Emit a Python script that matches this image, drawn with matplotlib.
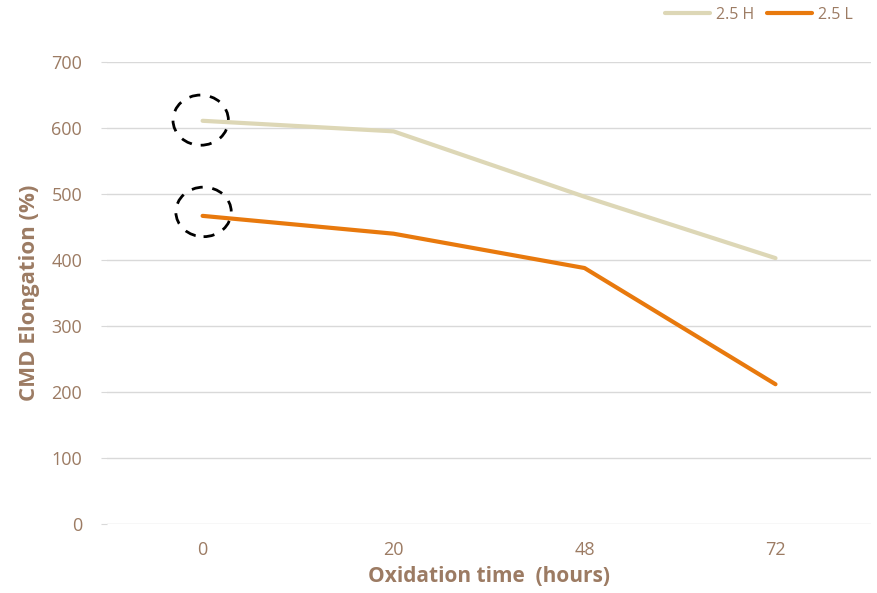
import matplotlib
matplotlib.use('Agg')
import matplotlib.pyplot as plt
from matplotlib.patches import Ellipse

# data
hours = ['0', '20', '48', '72']
h_vals = [611, 595, 496, 403]
l_vals = [467, 440, 388, 212]

brown = '#9C7B63'
grid_c = '#D9D9D9'

plt.rcParams['font.family'] = ['Open Sans', 'DejaVu Sans']

fig = plt.figure(figsize=(8.78, 5.93), dpi=100)
ax = fig.add_axes([0.122, 0.116, 0.870, 0.7794])

x = range(len(hours))
ax.plot(x, h_vals, color='#DDD7B6', lw=3, label='2.5 H', solid_capstyle='round')
ax.plot(x, l_vals, color='#E8790D', lw=3, label='2.5 L', solid_capstyle='round')

# dashed circles around the first points (size in data units)
ax.add_patch(Ellipse((-0.01, h_vals[0] + 1), 0.29, 76, fill=False, ls=(0, (4, 3.5)),
                     lw=2, color='black', zorder=5))
ax.add_patch(Ellipse((0.005, l_vals[0] + 6), 0.29, 75, fill=False, ls=(0, (4, 3.5)),
                     lw=2, color='black', zorder=5))

ax.set_xlim(-0.5, len(hours) - 0.5)
ax.set_ylim(0, 700)
ax.set_xticks(list(x))
ax.set_xticklabels(hours)
ax.set_yticks(range(0, 701, 100))
ax.grid(axis='y', color=grid_c, lw=1)
ax.set_axisbelow(True)
for s in ax.spines.values():
    s.set_visible(False)
ax.tick_params(axis='x', length=0, pad=12, labelsize=13, labelcolor=brown)
ax.tick_params(axis='y', length=4, color=grid_c, pad=14, labelsize=13, labelcolor=brown)

ax.set_xlabel('Oxidation time  (hours)', fontsize=15, fontweight='bold', color=brown, labelpad=5)
ax.set_ylabel('CMD Elongation (%)', fontsize=16, fontweight='bold', color=brown, labelpad=8)

leg = ax.legend(loc='upper right', bbox_to_anchor=(0.995, 1.15), ncol=2, frameon=False,
                fontsize=11.5, handlelength=2.8, handletextpad=0.4, columnspacing=0.8)
for t in leg.get_texts():
    t.set_color(brown)

fig.savefig('out.png', dpi=100)
